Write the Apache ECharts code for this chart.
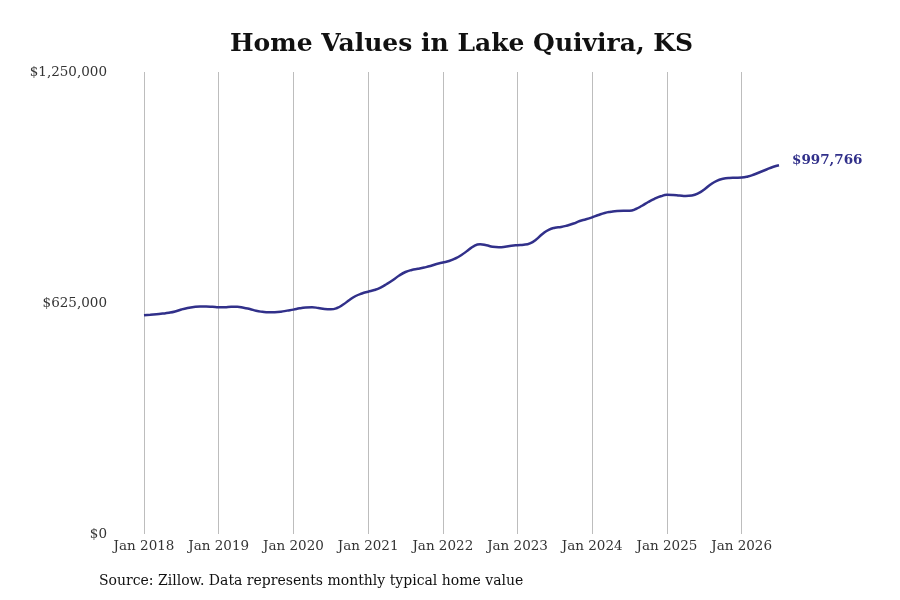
<!DOCTYPE html>
<html>
<head>
<meta charset="utf-8">
<script src="https://cdn.jsdelivr.net/npm/echarts@6/dist/echarts.min.js"></script>
<style>html,body{margin:0;padding:0;background:#fff}#c{width:900px;height:600px}</style>
</head>
<body>
<div id="c"></div>
<script>
const years = [2018, 2019, 2020, 2021, 2022, 2023, 2024, 2025, 2026];
const monthNames = ['Jan','Feb','Mar','Apr','May','Jun','Jul','Aug','Sep','Oct','Nov','Dec'];
const values = [
  591700, 593100, 594700, 596300, 598500, 602000, 607400, 611500, 614200, 615500, 615500, 614700,
  613400, 613600, 614700, 614700, 612000, 608800, 603900, 601200, 599800, 600100, 601500, 604400,
  607100, 610700, 612800, 613400, 611500, 608800, 607900, 611500, 620900, 633100, 643900, 650700,
  655600, 660200, 666900, 676400, 687200, 699400, 708900, 714300, 717500, 721000, 725100, 730500,
  734600, 738600, 745400, 754900, 767000, 779200, 783800, 781100, 777000, 775700, 777000, 779800,
  781400, 782500, 786500, 796800, 811700, 823000, 828500, 830600, 834700, 840100, 846900, 851500,
  856900, 863100, 868500, 871700, 873900, 874500, 874500, 879300, 888200, 898300, 906900, 913700,
  917700, 917200, 915800, 914500, 915800, 921300, 932100, 945600, 955600, 961000, 963200, 963700,
  964300, 967300, 972700, 979400, 986200, 993000, 997766
];
const yTicks = [0, 625000, 1250000];
const titleText = 'Home Values in Lake Quivira, KS';
const sourceText = 'Source: Zillow. Data represents monthly typical home value';

const categories = [];
for (let i = 0; i < values.length; i++) {
  const y = years[0] + Math.floor(i / 12);
  categories.push(monthNames[i % 12] + ' ' + y);
}
const serif = 'DejaVu Serif';
const isJan = (idx) => idx % 12 === 0;

const chart = echarts.init(document.getElementById('c'), null, {renderer: 'canvas'});
chart.setOption({
  animation: false,
  backgroundColor: '#fff',
  grid: {left: 144, right: 121, top: 72, bottom: 66, containLabel: false},
  graphic: [
    {type: 'text', left: 230, top: 32, style: {text: titleText, font: 'bold 25px "DejaVu Serif"', fill: '#111'}},
    {type: 'text', left: 99, top: 574, style: {text: sourceText, font: '14px "DejaVu Serif"', fill: '#111'}}
  ],
  xAxis: {
    type: 'category',
    data: categories,
    boundaryGap: false,
    axisLine: {show: false},
    axisTick: {show: false},
    axisLabel: {
      interval: (idx) => isJan(idx),
      formatter: (v) => v,
      fontFamily: serif, fontSize: 13.5, color: '#333', margin: 5
    },
    splitLine: {show: true, interval: (idx) => isJan(idx), lineStyle: {color: '#bdbdbd', width: 1}}
  },
  yAxis: {
    type: 'value',
    min: 0, max: yTicks[yTicks.length - 1], interval: yTicks[1],
    axisLine: {show: false},
    axisTick: {show: false},
    splitLine: {show: false},
    axisLabel: {
      fontFamily: serif, fontSize: 13.5, color: '#333', margin: 37,
      formatter: (v) => '$' + v.toLocaleString('en-US')
    }
  },
  series: [{
    type: 'line',
    data: values,
    smooth: true,
    showSymbol: false,
    lineStyle: {color: '#31308a', width: 2.5},
    endLabel: {
      show: true,
      distance: 13,
      offset: [0, -5],
      formatter: (p) => '$' + p.value.toLocaleString('en-US'),
      fontFamily: serif, fontWeight: 'bold', fontSize: 13.5, color: '#31308a'
    }
  }]
});
</script>
</body>
</html>
